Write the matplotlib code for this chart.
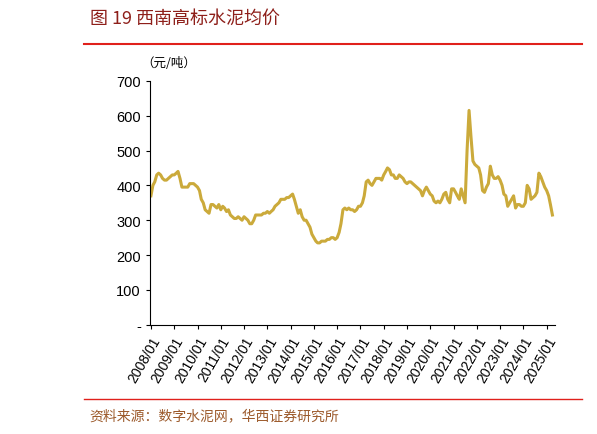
import matplotlib.pyplot as plt
import numpy as np
import pandas as pd

plt.rcParams['font.family'] = ['Liberation Sans', 'Noto Sans CJK SC']

# 西南高标水泥均价, 月度, 元/吨
y2008 = [370, 400, 410, 430, 435, 430, 420, 415, 415, 420, 425, 430]
y2009 = [430, 435, 440, 420, 395, 395, 395, 395, 405, 405, 405, 400]
y2010 = [395, 385, 360, 350, 330, 325, 320, 345, 345, 340, 335, 345]
y2011 = [330, 340, 335, 325, 330, 315, 310, 305, 305, 310, 305, 300]
y2012 = [310, 305, 300, 290, 290, 300, 315, 315, 315, 315, 320, 320]
y2013 = [325, 320, 325, 330, 340, 345, 350, 360, 360, 360, 365, 365]
y2014 = [370, 375, 360, 340, 320, 330, 310, 300, 300, 290, 280, 260]
y2015 = [250, 240, 235, 235, 240, 240, 240, 245, 245, 250, 250, 245]
y2016 = [250, 265, 290, 330, 335, 330, 335, 330, 330, 325, 330, 340]
y2017 = [340, 350, 370, 410, 415, 405, 400, 410, 420, 420, 420, 415]
y2018 = [430, 440, 450, 445, 430, 430, 420, 420, 430, 425, 420, 410]
y2019 = [405, 410, 410, 405, 400, 395, 390, 385, 370, 385, 395, 385]
y2020 = [375, 370, 355, 350, 355, 350, 360, 375, 380, 360, 350, 390]
y2021 = [390, 380, 370, 360, 390, 370, 350, 500, 615, 540, 470, 460]
y2022 = [455, 450, 430, 385, 380, 395, 405, 455, 430, 420, 420, 425]
y2023 = [415, 400, 375, 370, 340, 350, 360, 370, 335, 345, 345, 340]
y2024 = [340, 350, 400, 390, 360, 365, 370, 380, 435, 425, 410, 395]
y2025 = [385, 370, 345, 315]

prices = (y2008 + y2009 + y2010 + y2011 + y2012 + y2013 + y2014 + y2015 + y2016
          + y2017 + y2018 + y2019 + y2020 + y2021 + y2022 + y2023 + y2024 + y2025)
dates = pd.date_range('2008-01-01', periods=len(prices), freq='MS')
tick_years = list(range(2008, 2026))
tick_labels = [f'{y}/01' for y in tick_years]

fig = plt.figure(figsize=(5.97, 4.35), dpi=100)
ax = fig.add_axes([0.251, 0.251, 0.679, 0.561])

ax.plot(dates, prices, color='#CBAA3B', lw=2.2)
ax.set_ylim(0, 700)
ax.set_yticks(range(0, 701, 100))
ax.set_yticklabels(['-'] + [str(v) for v in range(100, 701, 100)], fontsize=10.5)
ax.set_xlim(pd.Timestamp('2007-12-15'), pd.Timestamp('2025-05-15'))
ax.set_xticks([pd.Timestamp(f'{y}-01-01') for y in tick_years])
ax.set_xticklabels(tick_labels, rotation=60, ha='right', rotation_mode='anchor', fontsize=10)
for s in ['top', 'right']:
    ax.spines[s].set_visible(False)
ax.tick_params(length=3)
ax.text(-0.02, 1.06, '（元/吨）', transform=ax.transAxes, fontsize=9,
        family=['Noto Sans CJK SC'])

# 标题和来源
fig.text(0.15, 0.945, '图 19 西南高标水泥均价', fontsize=13, color='#8E1F1A',
         family=['Noto Sans CJK SC'])
fig.add_artist(plt.Line2D([0.14, 0.975], [0.897, 0.897], color='#E0201B', lw=1.5))
fig.add_artist(plt.Line2D([0.14, 0.975], [0.08, 0.08], color='#E0201B', lw=1))
fig.text(0.15, 0.035, '资料来源：数字水泥网，华西证券研究所', fontsize=10, color='#9C5A2B',
         family=['Noto Sans CJK SC'])

fig.savefig('out.png', dpi=100)
